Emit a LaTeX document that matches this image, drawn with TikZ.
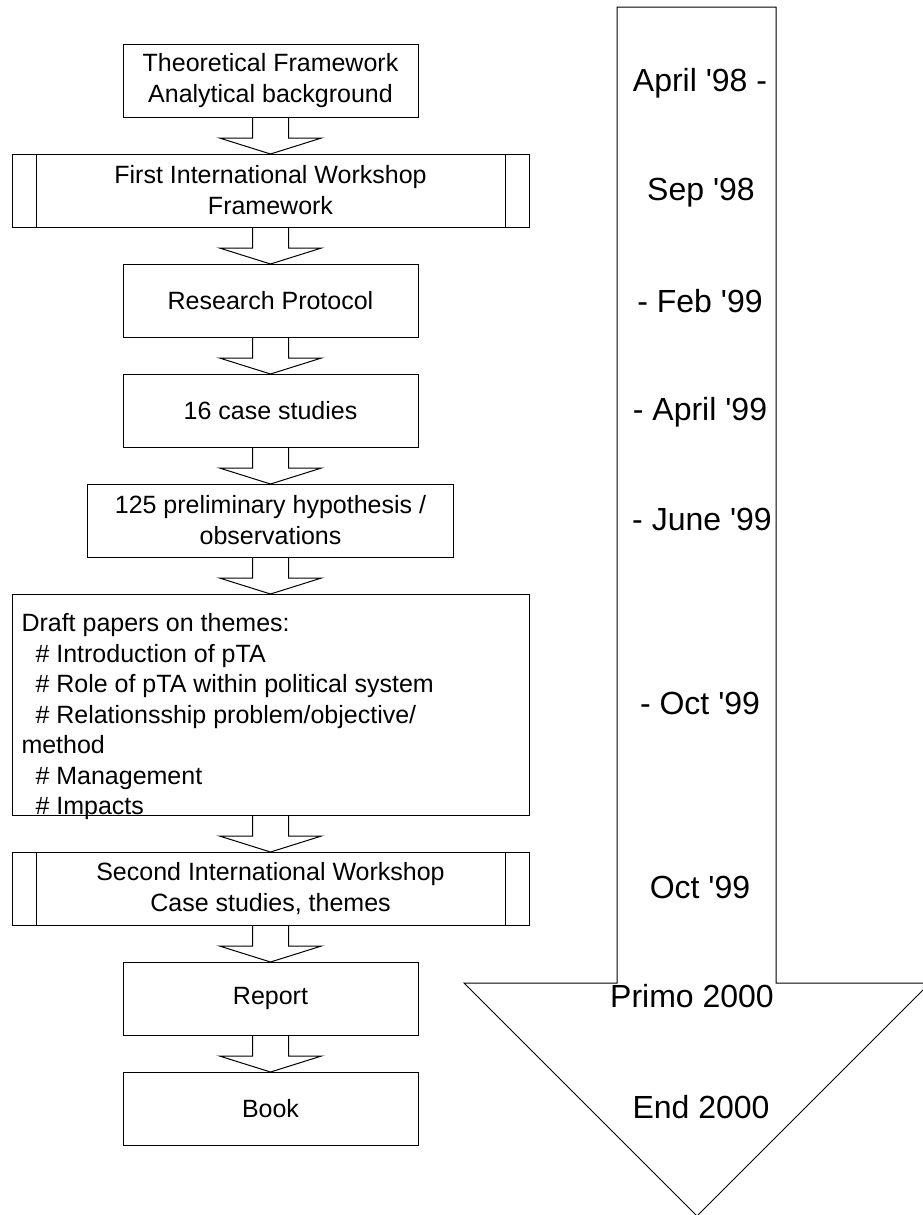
\documentclass[tikz,border=0pt]{standalone}
\usepackage{fontspec}
\setmainfont{Liberation Sans}
\usetikzlibrary{positioning,calc}

\begin{document}
\begin{tikzpicture}[x=0.5pt,y=-0.5pt,line width=0.5pt,node distance=18.5pt,
  box/.style={draw,rectangle,minimum width=147.5pt,minimum height=36.5pt,outer sep=0pt,
    align=center,inner sep=2pt,font=\fontsize{12.5}{15.5}\selectfont},
  wide box/.style={box,minimum width=258.5pt},
  process/.style={wide box,path picture={
    \draw ([xshift=12pt]path picture bounding box.north west) -- ([xshift=12pt]path picture bounding box.south west);
    \draw ([xshift=-12pt]path picture bounding box.north east) -- ([xshift=-12pt]path picture bounding box.south east);}},
  block arrow/.style={to path={($(\tikztostart.south)+(-18,0)$) -- ($(\tikztotarget.north)+(-18,-16)$)
    -- ($(\tikztotarget.north)+(-51,-16)$) -- (\tikztotarget.north) -- ($(\tikztotarget.north)+(51,-16)$)
    -- ($(\tikztotarget.north)+(18,-16)$) -- ($(\tikztostart.south)+(18,0)$)}},
  date/.style={anchor=base,font=\fontsize{16}{19}\selectfont}]
  \useasboundingbox (0,0) rectangle (922,1215);

  % time line
  \draw (617,7) -- (776,7) -- (776,983) -- (930,983) -- (697,1216) -- (464,983) -- (617,983) -- cycle;

  \node[box] (theory) at (270.5,80.5) {Theoretical Framework\\Analytical background};
  \node[process] (ws1) [below=of theory] {First International Workshop\\Framework};
  \node[box] (protocol) [below=of ws1] {Research Protocol};
  \node[box] (cases) [below=of protocol] {16 case studies};
  \node[box,minimum width=183pt] (hypo) [below=of cases] {125 preliminary hypothesis /\\observations};
  \node[wide box,minimum height=110.5pt] (draft) [below=of hypo] {};
  \node[anchor=north west,inner sep=0pt,align=left,font=\fontsize{12.5}{15.25}\selectfont] (draftlist) at (21,613)
    {Draft papers on themes:\\
     \hspace*{7pt}\# Introduction of pTA\\
     \hspace*{7pt}\# Role of pTA within political system\\
     \hspace*{7pt}\# Relationsship problem/objective/\\
     method\\
     \hspace*{7pt}\# Management\\
     \hspace*{7pt}\# Impacts};
  \node[process] (ws2) [below=of draft] {Second International Workshop\\Case studies, themes};
  \node[box] (report) [below=of ws2] {Report};
  \node[box] (book) [below=of report] {Book};

  \path[block arrow]
    (theory) edge (ws1)
    (ws1) edge (protocol)
    (protocol) edge (cases)
    (cases) edge (hypo)
    (hypo) edge (draft)
    (draft) edge (ws2)
    (ws2) edge (report)
    (report) edge (book);

  \node[date] (apr98) at (700,91) {April \textquotesingle 98 -};
  \node[date] (sep98) at (701,200) {Sep \textquotesingle 98};
  \node[date] (feb99) at (700,312) {- Feb \textquotesingle 99};
  \node[date] (apr99) at (700,420) {- April \textquotesingle 99};
  \node[date] (jun99) at (702,530) {- June \textquotesingle 99};
  \node[date] (oct99a) at (700,714) {- Oct \textquotesingle 99};
  \node[date] (oct99b) at (700,898) {Oct \textquotesingle 99};
  \node[date] (primo) at (692,1007) {Primo 2000};
  \node[date] (end) at (701,1118) {End 2000};
\end{tikzpicture}
\end{document}
